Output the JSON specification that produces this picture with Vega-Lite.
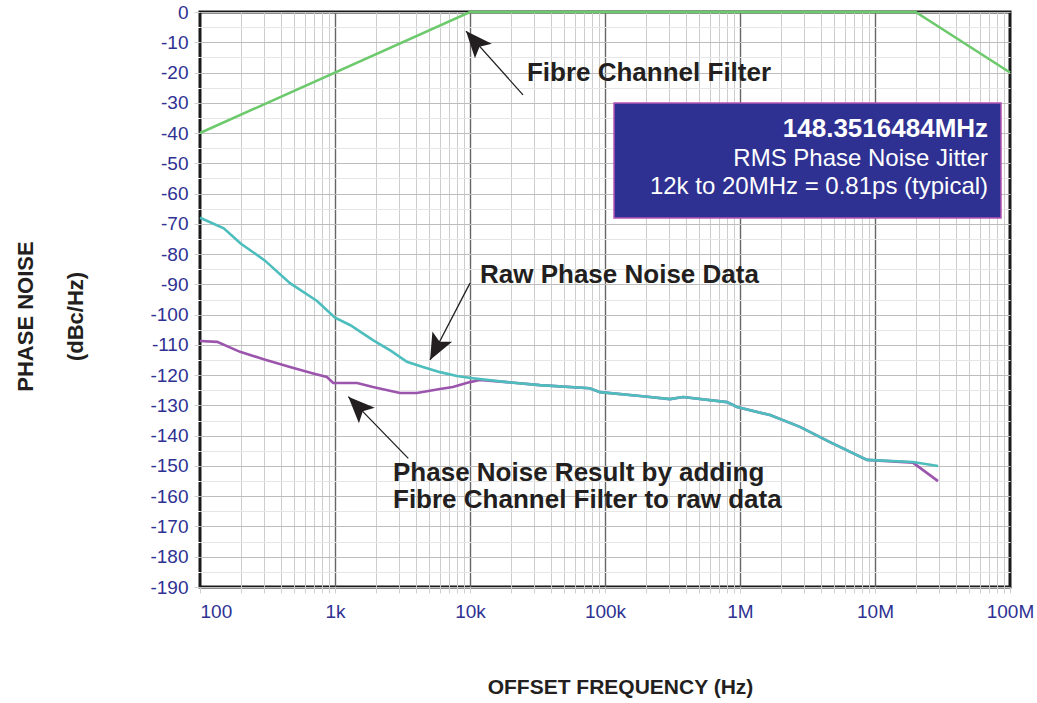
{
  "$schema": "https://vega.github.io/schema/vega-lite/v6.json",
  "width": 810,
  "height": 575,
  "autosize": {"type": "none"},
  "padding": {"left": 200, "top": 12, "right": 27, "bottom": 116},
  "background": "white",
  "config": {
    "view": {"stroke": "#1a1a1a", "strokeWidth": 3},
    "font": "Liberation Sans",
    "axis": {"labelOverlap": false}
  },
  "datasets": {
    "curves": [
      {"series": "Result", "f": 100, "v": -108.7},
      {"series": "Result", "f": 134, "v": -109},
      {"series": "Result", "f": 198, "v": -112.3},
      {"series": "Result", "f": 300, "v": -114.8},
      {"series": "Result", "f": 464, "v": -117.3},
      {"series": "Result", "f": 700, "v": -119.5},
      {"series": "Result", "f": 871, "v": -120.6},
      {"series": "Result", "f": 970, "v": -122.6},
      {"series": "Result", "f": 1460, "v": -122.6},
      {"series": "Result", "f": 1910, "v": -123.9},
      {"series": "Result", "f": 3030, "v": -125.9},
      {"series": "Result", "f": 4040, "v": -125.9},
      {"series": "Result", "f": 5990, "v": -124.6},
      {"series": "Result", "f": 7460, "v": -123.9},
      {"series": "Result", "f": 10000, "v": -122.3},
      {"series": "Result", "f": 11800, "v": -121.6},
      {"series": "Result", "f": 18800, "v": -122.3},
      {"series": "Result", "f": 33000, "v": -123.3},
      {"series": "Result", "f": 77000, "v": -124.3},
      {"series": "Result", "f": 92000, "v": -125.6},
      {"series": "Result", "f": 182000, "v": -126.9},
      {"series": "Result", "f": 303000, "v": -127.9},
      {"series": "Result", "f": 378000, "v": -127.2},
      {"series": "Result", "f": 802000, "v": -128.9},
      {"series": "Result", "f": 950000, "v": -130.5},
      {"series": "Result", "f": 1670000, "v": -133.2},
      {"series": "Result", "f": 2780000, "v": -137.1},
      {"series": "Result", "f": 4640000, "v": -142.1},
      {"series": "Result", "f": 8730000, "v": -148},
      {"series": "Result", "f": 19100000, "v": -148.9},
      {"series": "Result", "f": 29300000, "v": -155},
      {"series": "Raw", "f": 100, "v": -68},
      {"series": "Raw", "f": 150, "v": -71.5},
      {"series": "Raw", "f": 200, "v": -76.5},
      {"series": "Raw", "f": 300, "v": -82},
      {"series": "Raw", "f": 464, "v": -89.6},
      {"series": "Raw", "f": 736, "v": -95.5},
      {"series": "Raw", "f": 1000, "v": -101},
      {"series": "Raw", "f": 1300, "v": -103.5},
      {"series": "Raw", "f": 1910, "v": -108.4},
      {"series": "Raw", "f": 2600, "v": -112},
      {"series": "Raw", "f": 3410, "v": -115.6},
      {"series": "Raw", "f": 4480, "v": -117.3},
      {"series": "Raw", "f": 6000, "v": -119},
      {"series": "Raw", "f": 8000, "v": -120.3},
      {"series": "Raw", "f": 10500, "v": -121},
      {"series": "Raw", "f": 18800, "v": -122.3},
      {"series": "Raw", "f": 33000, "v": -123.3},
      {"series": "Raw", "f": 77000, "v": -124.3},
      {"series": "Raw", "f": 92000, "v": -125.6},
      {"series": "Raw", "f": 182000, "v": -126.9},
      {"series": "Raw", "f": 303000, "v": -127.9},
      {"series": "Raw", "f": 378000, "v": -127.2},
      {"series": "Raw", "f": 802000, "v": -128.9},
      {"series": "Raw", "f": 950000, "v": -130.5},
      {"series": "Raw", "f": 1670000, "v": -133.2},
      {"series": "Raw", "f": 2780000, "v": -137.1},
      {"series": "Raw", "f": 4640000, "v": -142.1},
      {"series": "Raw", "f": 8730000, "v": -148},
      {"series": "Raw", "f": 19100000, "v": -148.7},
      {"series": "Raw", "f": 29300000, "v": -150},
      {"series": "Filter", "f": 100, "v": -40},
      {"series": "Filter", "f": 10000, "v": 0},
      {"series": "Filter", "f": 20000000, "v": 0},
      {"series": "Filter", "f": 100000000, "v": -20}
    ],
    "arrows": [
      {"name": "filter", "f": 9340, "v": -6.3, "f2": 24700, "v2": -27.4},
      {"name": "raw", "f": 5060, "v": -115, "f2": 10000, "v2": -89.6},
      {"name": "result", "f": 1255, "v": -127.1, "f2": 3490, "v2": -147.5}
    ],
    "notes": [
      {"text": "Fibre Channel Filter", "f": 26400, "v": -20.2},
      {"text": "Raw Phase Noise Data", "f": 11860, "v": -86.9},
      {"text": "Phase Noise Result by adding", "f": 2690, "v": -152.3},
      {"text": "Fibre Channel Filter to raw data", "f": 2690, "v": -161.3}
    ],
    "box": [
      {"f": 116600, "f2": 85800000, "v": -30.1, "v2": -68.1}
    ],
    "boxText": [
      {"line": 1, "text": "148.3516484MHz", "f": 68800000, "v": -38.7},
      {"line": 2, "text": "RMS Phase Noise Jitter", "f": 68800000, "v": -48.6},
      {"line": 3, "text": "12k to 20MHz = 0.81ps (typical)", "f": 68800000, "v": -57.8}
    ]
  },
  "encoding": {
    "x": {
      "field": "f", "type": "quantitative",
      "scale": {"type": "log", "domain": [100, 100000000], "nice": false},
      "axis": {
        "values": [100,200,300,400,500,600,700,800,900,1000,2000,3000,4000,5000,6000,7000,8000,9000,10000,20000,30000,40000,50000,60000,70000,80000,90000,100000,200000,300000,400000,500000,600000,700000,800000,900000,1000000,2000000,3000000,4000000,5000000,6000000,7000000,8000000,9000000,10000000,20000000,30000000,40000000,50000000,60000000,70000000,80000000,90000000,100000000],
        "labelExpr": "indexof([100,1000,10000,100000,1000000,10000000,100000000], datum.value) >= 0 ? format(datum.value, '~s') : ''",
        "labelFlush": false,
        "labelAlign": {"condition": {"test": "datum.value == 100", "value": "left"}, "value": "center"},
        "labelFont": "Liberation Sans",
        "labelFontSize": 19,
        "labelColor": "#2e3192",
        "labelPadding": 9,
        "labelOverlap": false,
        "tickSize": 6,
        "tickColor": "#cfcfcf",
        "domain": false,
        "grid": true,
        "gridColor": {"condition": {"test": "indexof([1000,10000,100000,1000000,10000000], datum.value) >= 0", "value": "#666666"}, "value": "#cdcdcd"},
        "gridWidth": {"condition": {"test": "indexof([1000,10000,100000,1000000,10000000], datum.value) >= 0", "value": 1.4}, "value": 1},
        "gridOpacity": {"condition": {"test": "datum.value == 100 || datum.value == 100000000", "value": 0}, "value": 1},
        "title": "OFFSET FREQUENCY (Hz)",
        "titleFont": "Liberation Sans",
        "titleFontSize": 21,
        "titleFontWeight": "bold",
        "titleColor": "#231f20",
        "titleX": 420,
        "titleY": 100,
        "titleBaseline": "middle",
        "titleAlign": "center"
      }
    },
    "y": {
      "field": "v", "type": "quantitative",
      "scale": {"domain": [-190, 0], "nice": false, "zero": false},
      "axis": {
        "values": [-190,-185,-180,-175,-170,-165,-160,-155,-150,-145,-140,-135,-130,-125,-120,-115,-110,-105,-100,-95,-90,-85,-80,-75,-70,-65,-60,-55,-50,-45,-40,-35,-30,-25,-20,-15,-10,-5,0],
        "labelExpr": "datum.value % 10 == 0 ? '' + datum.value : ''",
        "labelFont": "Liberation Sans",
        "labelFontSize": 19,
        "labelColor": "#2e3192",
        "labelPadding": 6,
        "labelOverlap": false,
        "tickSize": 6,
        "tickColor": {"condition": {"test": "datum.value % 10 == 0", "value": "#cfcfcf"}, "value": "#ffffff"},
        "domain": false,
        "grid": true,
        "gridColor": {"condition": {"test": "datum.value % 10 == 0", "value": "#bdbdbd"}, "value": "#e6e6e6"},
        "title": ["PHASE NOISE", "(dBc/Hz)"],
        "titleFont": "Liberation Sans",
        "titleFontSize": 22,
        "titleFontWeight": "bold",
        "titleColor": "#231f20",
        "titleAngle": -90,
        "titleX": -185,
        "titleY": 304,
        "titleBaseline": "top",
        "titleAlign": "center",
        "titleLineHeight": 50
      }
    }
  },
  "layer": [
    {
      "data": {"name": "curves"},
      "mark": {"type": "line", "strokeWidth": 2.6, "interpolate": "linear"},
      "encoding": {
        "color": {
          "field": "series", "type": "nominal",
          "scale": {"domain": ["Result", "Raw", "Filter"], "range": ["#9c55ad", "#4dbdbd", "#6cc96c"]},
          "legend": null
        },
        "order": {"field": "f", "type": "quantitative"}
      }
    },
    {
      "data": {"name": "box"},
      "mark": {"type": "rect", "fill": "#2e3192", "stroke": "#b455b4", "strokeWidth": 1.5},
      "encoding": {
        "x2": {"field": "f2"},
        "y2": {"field": "v2"}
      }
    },
    {
      "data": {"name": "boxText"},
      "transform": [{"filter": "datum.line == 1"}],
      "mark": {"type": "text", "align": "right", "baseline": "middle", "fontSize": 26, "fontWeight": "bold", "color": "white", "font": "Liberation Sans"},
      "encoding": {
        "text": {"field": "text"}
      }
    },
    {
      "data": {"name": "boxText"},
      "transform": [{"filter": "datum.line > 1"}],
      "mark": {"type": "text", "align": "right", "baseline": "middle", "fontSize": 24, "color": "white", "font": "Liberation Sans"},
      "encoding": {
        "text": {"field": "text"}
      }
    },
    {
      "data": {"name": "arrows"},
      "mark": {"type": "rule", "color": "#231f20", "strokeWidth": 1.3},
      "encoding": {
        "x2": {"field": "f2"},
        "y2": {"field": "v2"}
      }
    },
    {
      "data": {"name": "arrows"},
      "transform": [{"filter": "datum.name == 'filter'"}],
      "mark": {"type": "point", "shape": "M0,0L-0.42,1L0,0.78L0.42,1Z", "size": 2800, "filled": true, "opacity": 1, "color": "#231f20", "angle": 319},
      "encoding": {}
    },
    {
      "data": {"name": "arrows"},
      "transform": [{"filter": "datum.name == 'raw'"}],
      "mark": {"type": "point", "shape": "M0,0L-0.42,1L0,0.78L0.42,1Z", "size": 2800, "filled": true, "opacity": 1, "color": "#231f20", "angle": 207.5},
      "encoding": {}
    },
    {
      "data": {"name": "arrows"},
      "transform": [{"filter": "datum.name == 'result'"}],
      "mark": {"type": "point", "shape": "M0,0L-0.42,1L0,0.78L0.42,1Z", "size": 2800, "filled": true, "opacity": 1, "color": "#231f20", "angle": 315.5},
      "encoding": {}
    },
    {
      "data": {"name": "notes"},
      "mark": {"type": "text", "align": "left", "baseline": "middle", "fontSize": 26, "fontWeight": "bold", "color": "#231f20", "font": "Liberation Sans"},
      "encoding": {
        "text": {"field": "text"}
      }
    }
  ]
}
